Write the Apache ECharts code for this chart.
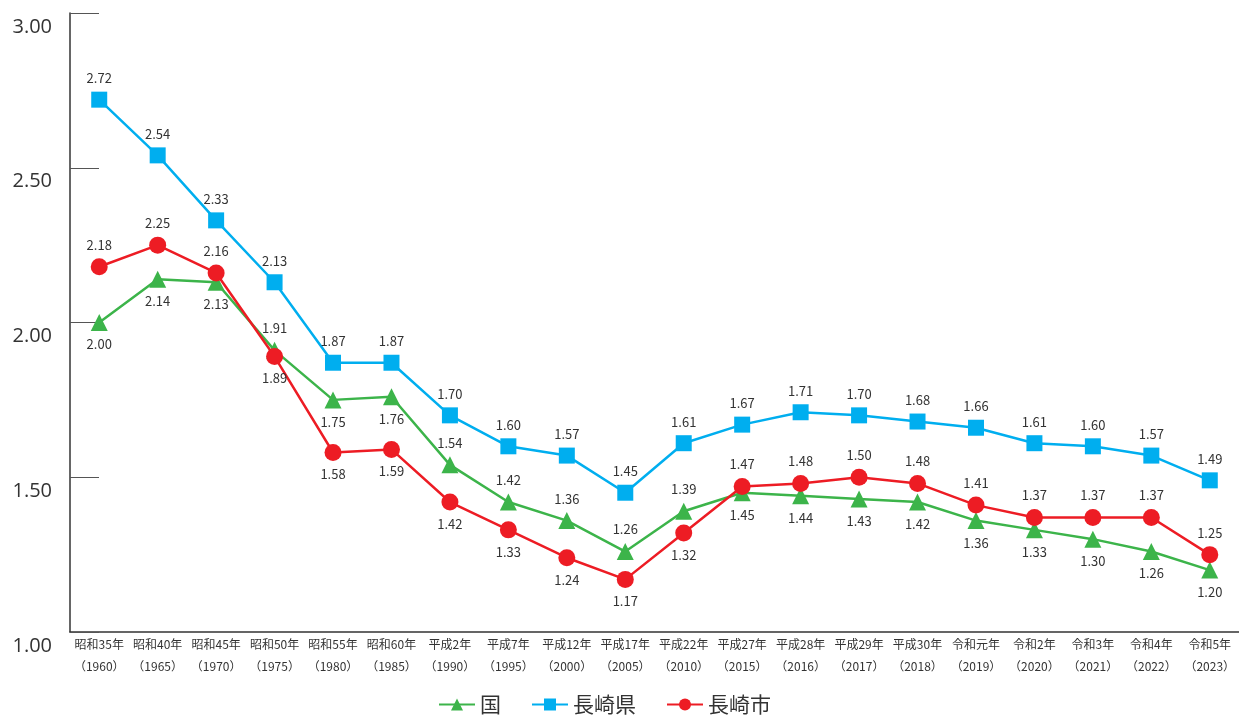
<!DOCTYPE html>
<html>
<head>
<meta charset="utf-8">
<script src="https://cdn.jsdelivr.net/npm/echarts@6/dist/echarts.min.js"></script>
<style>
  html, body { margin: 0; padding: 0; background: #fff; }
  #chart { width: 1239px; height: 716px; }
</style>
</head>
<body>
<div id="chart"></div>
<script>
// 年次
const categories = [
  '昭和35年\n（1960）', '昭和40年\n（1965）', '昭和45年\n（1970）', '昭和50年\n（1975）', '昭和55年\n（1980）',
  '昭和60年\n（1985）', '平成2年\n（1990）', '平成7年\n（1995）', '平成12年\n（2000）', '平成17年\n（2005）',
  '平成22年\n（2010）', '平成27年\n（2015）', '平成28年\n（2016）', '平成29年\n（2017）', '平成30年\n（2018）',
  '令和元年\n（2019）', '令和2年\n（2020）', '令和3年\n（2021）', '令和4年\n（2022）', '令和5年\n（2023）'
];
// 合計特殊出生率
const kuni = [2.00, 2.14, 2.13, 1.91, 1.75, 1.76, 1.54, 1.42, 1.36, 1.26, 1.39, 1.45, 1.44, 1.43, 1.42, 1.36, 1.33, 1.30, 1.26, 1.20];
const nagasakiKen = [2.72, 2.54, 2.33, 2.13, 1.87, 1.87, 1.70, 1.60, 1.57, 1.45, 1.61, 1.67, 1.71, 1.70, 1.68, 1.66, 1.61, 1.60, 1.57, 1.49];
const nagasakiShi = [2.18, 2.25, 2.16, 1.89, 1.58, 1.59, 1.42, 1.33, 1.24, 1.17, 1.32, 1.47, 1.48, 1.50, 1.48, 1.41, 1.37, 1.37, 1.37, 1.25];

// ラベル位置 (t: 上, b: 下)
const kuniPos = 'bbbtbbtttttbbbbbbbbb';
const shiPos  = 'tttbbbbbbbbttttttttt';

const labelBase = {
  show: true,
  fontSize: 13,
  color: '#333',
  fontFamily: '"Noto Sans CJK JP", sans-serif',
  distance: 7,
  formatter: p => Number(p.value).toFixed(2)
};

function withPos(values, pos) {
  return values.map((v, i) => ({
    value: v,
    label: { position: pos[i] === 't' ? 'top' : 'bottom' }
  }));
}

const chart = echarts.init(document.getElementById('chart'));
chart.setOption({
  animation: false,
  grid: { left: 70, right: -3, top: 13, bottom: 84 },
  legend: {
    left: 433,
    bottom: -4,
    itemWidth: 36,
    itemHeight: 15,
    itemGap: 30,
    textStyle: { fontSize: 21, color: '#333', fontFamily: '"Noto Sans CJK JP", sans-serif' },
    data: ['国', '長崎県', '長崎市']
  },
  xAxis: {
    type: 'category',
    data: categories,
    boundaryGap: true,
    axisLine: { lineStyle: { color: '#333', width: 1.5 } },
    axisTick: { inside: true, length: 15, lineStyle: { color: '#555' } },
    axisLabel: {
      interval: 0,
      fontSize: 12,
      lineHeight: 22,
      color: '#333',
      margin: 1,
      fontFamily: '"Noto Sans CJK JP", sans-serif'
    }
  },
  yAxis: {
    type: 'value',
    min: 1,
    max: 3,
    interval: 0.5,
    axisLine: { show: true, lineStyle: { color: '#333', width: 1.5 } },
    axisTick: { show: true, inside: true, length: 29, lineStyle: { color: '#555' } },
    splitLine: { show: false },
    axisLabel: {
      formatter: v => v.toFixed(2),
      fontSize: 20,
      color: '#333',
      margin: 18,
      verticalAlign: 'top',
      padding: [4, 0, 0, 0],
      fontFamily: '"Open Sans", sans-serif'
    }
  },
  series: [
    {
      name: '国',
      type: 'line',
      data: withPos(kuni, kuniPos),
      symbol: 'triangle',
      symbolSize: 17,
      itemStyle: { color: '#3cb44a' },
      lineStyle: { color: '#3cb44a', width: 2.5 },
      label: labelBase,
      z: 2
    },
    {
      name: '長崎県',
      type: 'line',
      data: nagasakiKen,
      symbol: 'rect',
      symbolSize: 16,
      itemStyle: { color: '#00aeef' },
      lineStyle: { color: '#00aeef', width: 2.5 },
      label: Object.assign({}, labelBase, { position: 'top' }),
      z: 3
    },
    {
      name: '長崎市',
      type: 'line',
      data: withPos(nagasakiShi, shiPos),
      symbol: 'circle',
      symbolSize: 17,
      itemStyle: { color: '#ed1c24' },
      lineStyle: { color: '#ed1c24', width: 2.5 },
      label: labelBase,
      z: 4
    }
  ]
});
</script>
</body>
</html>
